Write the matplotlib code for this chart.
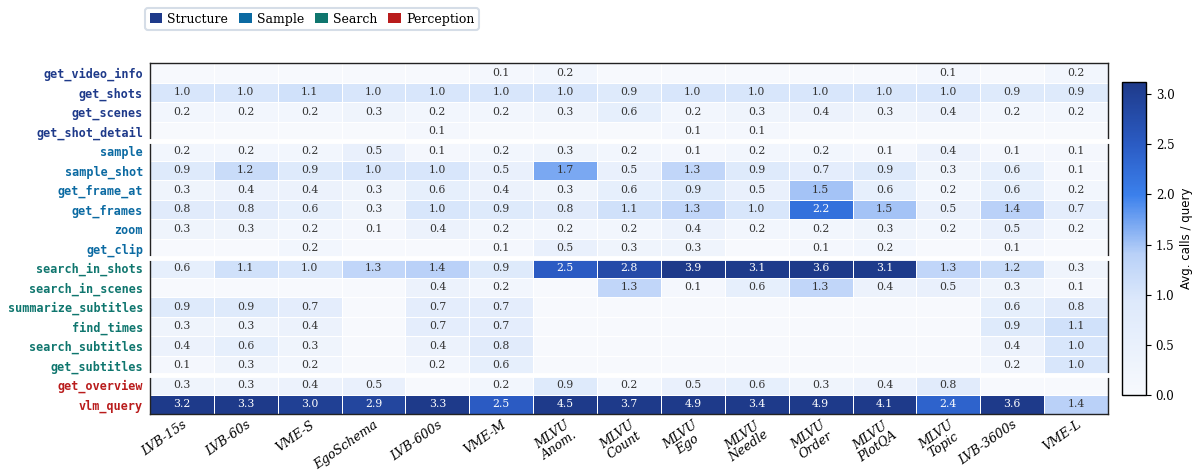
import numpy as np
import matplotlib
matplotlib.use('Agg')
import matplotlib.pyplot as plt
from matplotlib.colors import LinearSegmentedColormap, Normalize
from matplotlib.patches import Patch

datasets = ['LVB-15s', 'LVB-60s', 'VME-S', 'EgoSchema', 'LVB-600s', 'VME-M',
            'MLVU\nAnom.', 'MLVU\nCount', 'MLVU\nEgo', 'MLVU\nNeedle', 'MLVU\nOrder',
            'MLVU\nPlotQA', 'MLVU\nTopic', 'LVB-3600s', 'VME-L']

tools = ['get_video_info', 'get_shots', 'get_scenes', 'get_shot_detail',
         'sample', 'sample_shot', 'get_frame_at', 'get_frames', 'zoom', 'get_clip',
         'search_in_shots', 'search_in_scenes', 'summarize_subtitles', 'find_times',
         'search_subtitles', 'get_subtitles',
         'get_overview', 'vlm_query']

groups = ['Structure'] * 4 + ['Sample'] * 6 + ['Search'] * 6 + ['Perception'] * 2
group_names = ['Structure', 'Sample', 'Search', 'Perception']
group_colors = {'Structure': '#1e3a8a', 'Sample': '#0b6aa2', 'Search': '#0f766e', 'Perception': '#b91c1c'}

calls = [
    [0, 0, 0, 0, 0, 0.1, 0.2, 0, 0, 0, 0, 0, 0.1, 0, 0.2],
    [1.0, 1.0, 1.1, 1.0, 1.0, 1.0, 1.0, 0.9, 1.0, 1.0, 1.0, 1.0, 1.0, 0.9, 0.9],
    [0.2, 0.2, 0.2, 0.3, 0.2, 0.2, 0.3, 0.6, 0.2, 0.3, 0.4, 0.3, 0.4, 0.2, 0.2],
    [0, 0, 0, 0, 0.1, 0, 0, 0, 0.1, 0.1, 0, 0, 0, 0, 0],
    [0.2, 0.2, 0.2, 0.5, 0.1, 0.2, 0.3, 0.2, 0.1, 0.2, 0.2, 0.1, 0.4, 0.1, 0.1],
    [0.9, 1.2, 0.9, 1.0, 1.0, 0.5, 1.7, 0.5, 1.3, 0.9, 0.7, 0.9, 0.3, 0.6, 0.1],
    [0.3, 0.4, 0.4, 0.3, 0.6, 0.4, 0.3, 0.6, 0.9, 0.5, 1.5, 0.6, 0.2, 0.6, 0.2],
    [0.8, 0.8, 0.6, 0.3, 1.0, 0.9, 0.8, 1.1, 1.3, 1.0, 2.2, 1.5, 0.5, 1.4, 0.7],
    [0.3, 0.3, 0.2, 0.1, 0.4, 0.2, 0.2, 0.2, 0.4, 0.2, 0.2, 0.3, 0.2, 0.5, 0.2],
    [0, 0, 0.2, 0, 0, 0.1, 0.5, 0.3, 0.3, 0, 0.1, 0.2, 0, 0.1, 0],
    [0.6, 1.1, 1.0, 1.3, 1.4, 0.9, 2.5, 2.8, 3.9, 3.1, 3.6, 3.1, 1.3, 1.2, 0.3],
    [0, 0, 0, 0, 0.4, 0.2, 0, 1.3, 0.1, 0.6, 1.3, 0.4, 0.5, 0.3, 0.1],
    [0.9, 0.9, 0.7, 0, 0.7, 0.7, 0, 0, 0, 0, 0, 0, 0, 0.6, 0.8],
    [0.3, 0.3, 0.4, 0, 0.7, 0.7, 0, 0, 0, 0, 0, 0, 0, 0.9, 1.1],
    [0.4, 0.6, 0.3, 0, 0.4, 0.8, 0, 0, 0, 0, 0, 0, 0, 0.4, 1.0],
    [0.1, 0.3, 0.2, 0, 0.2, 0.6, 0, 0, 0, 0, 0, 0, 0, 0.2, 1.0],
    [0.3, 0.3, 0.4, 0.5, 0, 0.2, 0.9, 0.2, 0.5, 0.6, 0.3, 0.4, 0.8, 0, 0],
    [3.2, 3.3, 3.0, 2.9, 3.3, 2.5, 4.5, 3.7, 4.9, 3.4, 4.9, 4.1, 2.4, 3.6, 1.4],
]

M = np.array(calls)
vmax = 3.12

cmap = LinearSegmentedColormap.from_list('calls', [
    (0.0, '#f7f9fd'), (0.3, '#dde9fb'), (0.45, '#b9d1f8'),
    (0.64, '#3b80ec'), (0.8, '#2b5cc4'), (1.0, '#1e3a8a')])
norm = Normalize(0, vmax)

fig = plt.figure(figsize=(11.98, 4.71), dpi=100)
ax = fig.add_axes([0.1252, 0.121, 0.7997, 0.745])
cax = fig.add_axes([0.9366, 0.161, 0.02, 0.665])

mesh = ax.pcolormesh(M, cmap=cmap, norm=norm, edgecolor='white', linewidth=0.7)
ax.set_xlim(0, len(datasets))
ax.set_ylim(len(tools), 0)

for i in range(M.shape[0]):
    for j in range(M.shape[1]):
        v = M[i, j]
        if v <= 0:
            continue
        ax.text(j + 0.5, i + 0.5, f'{v:.1f}', ha='center', va='center',
                family='DejaVu Serif', fontsize=7.8,
                color='white' if v >= 2.0 else '#333333')

# white gaps between tool groups
for b in [4, 10, 16]:
    ax.axhline(b, color='white', lw=3.5, clip_on=False, zorder=3)

ax.set_xticks(np.arange(len(datasets)) + 0.5)
ax.set_xticklabels(datasets, rotation=35, ha='right', rotation_mode='anchor',
                   family='DejaVu Serif', style='italic', fontsize=9, multialignment='center',
                   linespacing=0.95)
ax.set_yticks(np.arange(len(tools)) + 0.5)
ax.set_yticklabels(tools, family='DejaVu Sans Mono', fontweight='bold', fontsize=8.5)
for lab, g in zip(ax.get_yticklabels(), groups):
    lab.set_color(group_colors[g])
ax.tick_params(axis='y', length=0, pad=5)
ax.tick_params(axis='x', length=0, pad=3)
for s in ax.spines.values():
    s.set_linewidth(1.0)
    s.set_color('#222222')

cbar = fig.colorbar(mesh, cax=cax)
cbar.set_ticks([0, 0.5, 1.0, 1.5, 2.0, 2.5, 3.0])
cbar.ax.tick_params(labelsize=8.5)
for t in cbar.ax.get_yticklabels():
    t.set_family('DejaVu Serif')
cbar.set_label('Avg. calls / query', fontsize=8.5, labelpad=4)
cbar.outline.set_linewidth(1.0)

handles = [Patch(facecolor=group_colors[g], edgecolor='none', label=g) for g in group_names]
leg = fig.legend(handles=handles, loc='upper center', bbox_to_anchor=(0.2604, 0.996), ncol=4,
                 prop={'family': 'DejaVu Serif', 'size': 9}, frameon=True,
                 handlelength=1.0, handleheight=0.9, handletextpad=0.4, columnspacing=0.9,
                 borderpad=0.35, fancybox=True)
leg.get_frame().set_edgecolor('#cbd5e1')
leg.get_frame().set_linewidth(1.5)

fig.savefig('out.png', dpi=100)
